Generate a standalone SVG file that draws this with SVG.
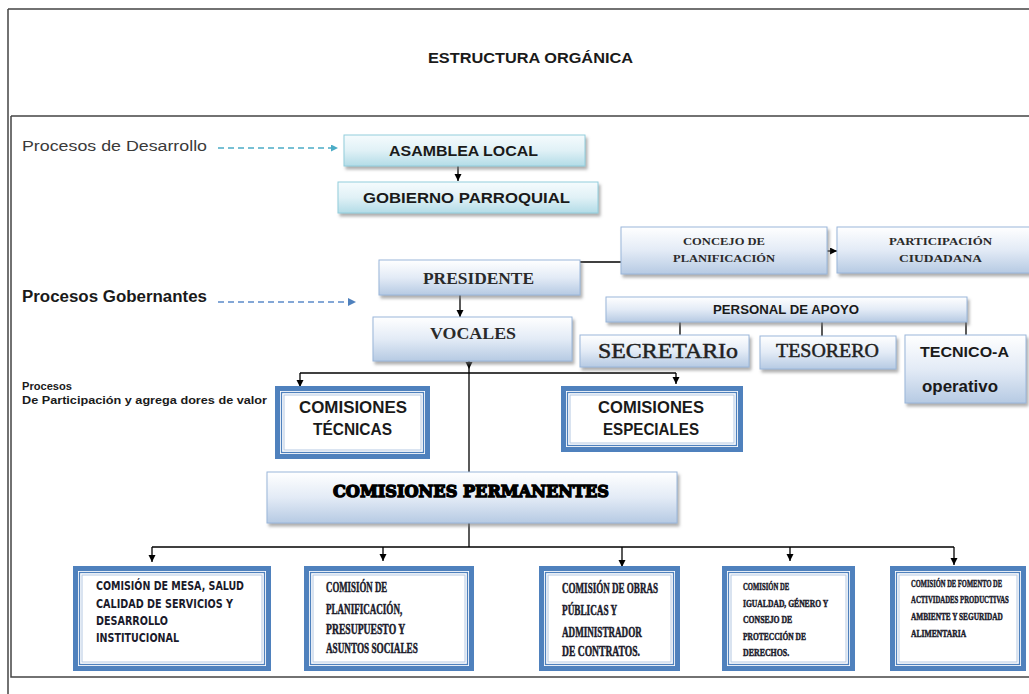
<svg xmlns="http://www.w3.org/2000/svg" width="1029" height="694" viewBox="0 0 1029 694">
<defs>
  <linearGradient id="gBlue" x1="0" y1="0" x2="0" y2="1">
    <stop offset="0" stop-color="#ffffff"/>
    <stop offset="0.5" stop-color="#e3ebf6"/>
    <stop offset="1" stop-color="#b6cae3"/>
  </linearGradient>
  <linearGradient id="gCyan" x1="0" y1="0" x2="0" y2="1">
    <stop offset="0" stop-color="#f5fbfd"/>
    <stop offset="0.5" stop-color="#e0f1f6"/>
    <stop offset="1" stop-color="#b3dce7"/>
  </linearGradient>
  <filter id="sh" x="-5%" y="-10%" width="115%" height="150%">
    <feDropShadow dx="2" dy="3" stdDeviation="1.4" flood-color="#7a7a7a" flood-opacity="0.6"/>
  </filter>
  <marker id="ah" markerUnits="userSpaceOnUse" markerWidth="8" markerHeight="8" refX="7" refY="3.5" orient="auto" viewBox="0 0 8 8">
    <path d="M0,0 L7,3.5 L0,7 z" fill="#000"/>
  </marker>
  <marker id="ahTeal" markerUnits="userSpaceOnUse" markerWidth="8" markerHeight="8" refX="7" refY="3.5" orient="auto" viewBox="0 0 8 8">
    <path d="M0,0 L7,3.5 L0,7 z" fill="#4bacc6"/>
  </marker>
  <marker id="ahBlue" markerUnits="userSpaceOnUse" markerWidth="9" markerHeight="9" refX="8" refY="4" orient="auto" viewBox="0 0 9 9">
    <path d="M0,0 L8,4 L0,8 z" fill="#4f81bd"/>
  </marker>
</defs>
<style>
  .frame { stroke:#444; stroke-width:1.5; fill:none; }
  .gb { fill:url(#gBlue); stroke:#9ab6da; stroke-width:1; filter:url(#sh); }
  .gc { fill:url(#gCyan); stroke:#92cddc; stroke-width:1; filter:url(#sh); }
  .d1 { fill:#fff; stroke:#4f81bd; stroke-width:5; }
  .d2 { fill:none; stroke:#4f81bd; stroke-width:1.3; }
  .d3 { fill:none; stroke:#b4c8e2; stroke-width:1; }
  .ln { stroke:#000; stroke-width:1.3; fill:none; }
  .sb { font-family:"Liberation Sans", Arial, sans-serif; font-weight:bold; fill:#1a1a1a; }
  .sr { font-family:"Liberation Sans", Arial, sans-serif; fill:#3a3a3a; }
  .fb { font-family:"Liberation Serif", "Times New Roman", serif; font-weight:bold; fill:#2a2a2a; }
  .fr { font-family:"Liberation Serif", "Times New Roman", serif; fill:#222; stroke:#222; stroke-width:0.45; }
  .cd { font-family:"DejaVu Sans Condensed", "DejaVu Sans", sans-serif; font-weight:bold; fill:#1a1a2a; }
  .cs { font-family:"Liberation Serif", "Times New Roman", serif; font-weight:bold; fill:#1a1a2a; stroke:#1a1a2a; stroke-width:0.5; }
  .hv { font-family:"DejaVu Serif", "Liberation Serif", serif; font-weight:bold; fill:#000; stroke:#000; stroke-width:1.4; }
</style>

<g id="frame">
  <path class="frame" d="M8,9 H1029 M8,9 V694"/>
  <path class="frame" d="M11,116 H1029 M11,116 V677 H1029" stroke-width="2"/>
</g>

<g id="title">
  <text class="sb" x="428" y="63" font-size="15" textLength="205" lengthAdjust="spacingAndGlyphs">ESTRUCTURA ORGÁNICA</text>
</g>

<g id="labels">
  <text class="sr" x="22" y="151" font-size="15.5" textLength="185" lengthAdjust="spacingAndGlyphs">Procesos de Desarrollo</text>
  <text class="sb" x="22" y="302" font-size="16" textLength="185" lengthAdjust="spacingAndGlyphs">Procesos Gobernantes</text>
  <text class="sb" x="22" y="390" font-size="10" textLength="50" lengthAdjust="spacingAndGlyphs">Procesos</text>
  <text class="sb" x="22" y="404" font-size="10" textLength="245" lengthAdjust="spacingAndGlyphs">De Participación  y agrega dores de valor</text>
</g>

<g id="connectors">
  <line x1="218" y1="148" x2="338" y2="148" stroke="#4bacc6" stroke-width="1.3" stroke-dasharray="6,4" marker-end="url(#ahTeal)"/>
  <line x1="218" y1="302" x2="356" y2="302" stroke="#5b8bc9" stroke-width="1.5" stroke-dasharray="6,4" marker-end="url(#ahBlue)"/>
  <line class="ln" x1="458" y1="166" x2="458" y2="181" marker-end="url(#ah)"/>
  <line class="ln" x1="572" y1="262" x2="621" y2="262"/>
  <line class="ln" x1="827" y1="251" x2="837" y2="251" marker-end="url(#ah)"/>
  <line class="ln" x1="460" y1="295" x2="460" y2="317" marker-end="url(#ah)"/>
  <line class="ln" x1="680" y1="322" x2="680" y2="335"/>
  <line class="ln" x1="822" y1="322" x2="822" y2="336"/>
  <line class="ln" x1="966" y1="322" x2="966" y2="335"/>
  <line class="ln" x1="469" y1="361" x2="469" y2="369" marker-end="url(#ah)"/>
  <path class="ln" d="M300,373 H676"/>
  <line class="ln" x1="300" y1="373" x2="300" y2="387" marker-end="url(#ah)"/>
  <line class="ln" x1="676" y1="373" x2="676" y2="384" marker-end="url(#ah)"/>
  <line class="ln" x1="469" y1="369" x2="469" y2="472"/>
  <line class="ln" x1="469" y1="523" x2="469" y2="547"/>
  <path class="ln" d="M152,547 H954"/>
  <line class="ln" x1="152" y1="547" x2="152" y2="562" marker-end="url(#ah)"/>
  <line class="ln" x1="383" y1="547" x2="383" y2="561" marker-end="url(#ah)"/>
  <line class="ln" x1="622" y1="547" x2="622" y2="567" marker-end="url(#ah)"/>
  <line class="ln" x1="790" y1="547" x2="790" y2="561" marker-end="url(#ah)"/>
  <line class="ln" x1="954" y1="547" x2="954" y2="565" marker-end="url(#ah)"/>
</g>

<g id="asamblea">
  <rect class="gc" x="344" y="135" width="241" height="31"/>
  <text class="sb" x="389" y="156" font-size="14" textLength="149" lengthAdjust="spacingAndGlyphs">ASAMBLEA LOCAL</text>
</g>
<g id="gobierno">
  <rect class="gc" x="338" y="182" width="260" height="31"/>
  <text class="sb" x="363" y="203" font-size="14" textLength="207" lengthAdjust="spacingAndGlyphs">GOBIERNO PARROQUIAL</text>
</g>
<g id="concejo">
  <rect class="gb" x="621" y="227" width="206" height="47"/>
  <text class="fb" x="683" y="245" font-size="11" textLength="82" lengthAdjust="spacingAndGlyphs">CONCEJO DE</text>
  <text class="fb" x="673" y="262" font-size="11" textLength="102" lengthAdjust="spacingAndGlyphs">PLANIFICACIÓN</text>
</g>
<g id="participacion">
  <rect class="gb" x="837" y="227" width="200" height="46"/>
  <text class="fb" x="889" y="245" font-size="11" textLength="103" lengthAdjust="spacingAndGlyphs">PARTICIPACIÓN</text>
  <text class="fb" x="899" y="262" font-size="11" textLength="83" lengthAdjust="spacingAndGlyphs">CIUDADANA</text>
</g>
<g id="presidente">
  <rect class="gb" x="379" y="260" width="201" height="35"/>
  <text class="fb" x="423" y="284" font-size="16" textLength="111" lengthAdjust="spacingAndGlyphs">PRESIDENTE</text>
</g>
<g id="vocales">
  <rect class="gb" x="373" y="317" width="199" height="44"/>
  <text class="fb" x="430" y="339" font-size="17" textLength="86" lengthAdjust="spacingAndGlyphs">VOCALES</text>
</g>
<g id="personal">
  <rect class="gb" x="606" y="297" width="361" height="25"/>
  <text class="sb" x="713" y="314" font-size="12.5" textLength="146" lengthAdjust="spacingAndGlyphs">PERSONAL DE APOYO</text>
</g>
<g id="secretario">
  <rect class="gb" x="580" y="335" width="169" height="32"/>
  <text class="fr" x="598" y="358" font-size="20" textLength="140" lengthAdjust="spacingAndGlyphs">SECRETARIo</text>
</g>
<g id="tesorero">
  <rect class="gb" x="760" y="336" width="136" height="33"/>
  <text class="fr" x="776" y="357" font-size="18" textLength="103" lengthAdjust="spacingAndGlyphs">TESORERO</text>
</g>
<g id="tecnico">
  <rect class="gb" x="905" y="335" width="121" height="68"/>
  <text class="sb" x="920" y="357" font-size="15" textLength="89" lengthAdjust="spacingAndGlyphs" fill="#2a2a2a">TECNICO-A</text>
  <text class="sb" x="922" y="392" font-size="16" textLength="76" lengthAdjust="spacingAndGlyphs" fill="#2a2a2a">operativo</text>
</g>
<g id="com-tecnicas">
  <rect class="d1" x="277.5" y="388.5" width="150" height="68"/>
  <rect class="d2" x="281.5" y="392.5" width="142" height="60"/>
  <rect class="d3" x="284" y="395" width="137" height="55"/>
  <text class="sb" x="299" y="413" font-size="16.5" textLength="108" lengthAdjust="spacingAndGlyphs">COMISIONES</text>
  <text class="sb" x="313" y="435" font-size="16.5" textLength="79" lengthAdjust="spacingAndGlyphs">TÉCNICAS</text>
</g>
<g id="com-especiales">
  <rect class="d1" x="563.5" y="388.5" width="177" height="61"/>
  <rect class="d2" x="567.5" y="392.5" width="169" height="53"/>
  <rect class="d3" x="570" y="395" width="164" height="48"/>
  <text class="sb" x="598" y="413" font-size="16.5" textLength="106" lengthAdjust="spacingAndGlyphs">COMISIONES</text>
  <text class="sb" x="603" y="435" font-size="16.5" textLength="96" lengthAdjust="spacingAndGlyphs">ESPECIALES</text>
</g>
<g id="com-permanentes">
  <rect class="gb" x="267" y="472" width="410" height="51"/>
  <text class="hv" x="333" y="497" font-size="16.5" textLength="276" lengthAdjust="spacingAndGlyphs">COMISIONES PERMANENTES</text>
</g>

<g id="com-mesa">
  <rect class="d1" x="75.5" y="568.5" width="193" height="100"/>
  <rect class="d2" x="79.5" y="572.5" width="185" height="92"/>
  <rect class="d3" x="82" y="575" width="180" height="87"/>
  <text class="cd" x="96" y="590" font-size="11.5" textLength="148" lengthAdjust="spacingAndGlyphs">COMISIÓN DE MESA, SALUD</text>
  <text class="cd" x="96" y="608" font-size="11.5" textLength="137" lengthAdjust="spacingAndGlyphs">CALIDAD DE SERVICIOS Y</text>
  <text class="cd" x="96" y="625" font-size="11.5" textLength="72" lengthAdjust="spacingAndGlyphs">DESARROLLO</text>
  <text class="cd" x="96" y="642" font-size="11.5" textLength="83" lengthAdjust="spacingAndGlyphs">INSTITUCIONAL</text>
</g>
<g id="com-planificacion">
  <rect class="d1" x="306.5" y="568.5" width="165" height="100"/>
  <rect class="d2" x="310.5" y="572.5" width="157" height="92"/>
  <rect class="d3" x="313" y="575" width="152" height="87"/>
  <text class="cs" transform="translate(326,592) scale(0.6,1)" font-size="15" textLength="102" lengthAdjust="spacingAndGlyphs">COMISIÓN DE</text>
  <text class="cs" transform="translate(326,614) scale(0.6,1)" font-size="15" textLength="127" lengthAdjust="spacingAndGlyphs">PLANIFICACIÓN,</text>
  <text class="cs" transform="translate(326,634) scale(0.6,1)" font-size="15" textLength="132" lengthAdjust="spacingAndGlyphs">PRESUPUESTO Y</text>
  <text class="cs" transform="translate(326,653) scale(0.6,1)" font-size="15" textLength="153" lengthAdjust="spacingAndGlyphs">ASUNTOS SOCIALES</text>
</g>
<g id="com-obras">
  <rect class="d1" x="541.5" y="568.5" width="136" height="100"/>
  <rect class="d2" x="545.5" y="572.5" width="128" height="92"/>
  <rect class="d3" x="548" y="575" width="123" height="87"/>
  <text class="cs" transform="translate(562,593) scale(0.6,1)" font-size="15" textLength="160" lengthAdjust="spacingAndGlyphs">COMISIÓN DE OBRAS</text>
  <text class="cs" transform="translate(562,615) scale(0.6,1)" font-size="15" textLength="92" lengthAdjust="spacingAndGlyphs">PÚBLICAS Y</text>
  <text class="cs" transform="translate(562,637) scale(0.6,1)" font-size="15" textLength="133" lengthAdjust="spacingAndGlyphs">ADMINISTRADOR</text>
  <text class="cs" transform="translate(562,656) scale(0.6,1)" font-size="15" textLength="130" lengthAdjust="spacingAndGlyphs">DE CONTRATOS.</text>
</g>
<g id="com-igualdad">
  <rect class="d1" x="724.5" y="568.5" width="128" height="100"/>
  <rect class="d2" x="728.5" y="572.5" width="120" height="92"/>
  <rect class="d3" x="731" y="575" width="115" height="87"/>
  <text class="cs" transform="translate(743,590) scale(0.6,1)" font-size="11" textLength="77" lengthAdjust="spacingAndGlyphs">COMISIÓN DE</text>
  <text class="cs" transform="translate(743,607) scale(0.6,1)" font-size="11" textLength="142" lengthAdjust="spacingAndGlyphs">IGUALDAD, GÉNERO Y</text>
  <text class="cs" transform="translate(743,623) scale(0.6,1)" font-size="11" textLength="82" lengthAdjust="spacingAndGlyphs">CONSEJO DE</text>
  <text class="cs" transform="translate(743,640) scale(0.6,1)" font-size="11" textLength="105" lengthAdjust="spacingAndGlyphs">PROTECCIÓN DE</text>
  <text class="cs" transform="translate(743,656) scale(0.6,1)" font-size="11" textLength="77" lengthAdjust="spacingAndGlyphs">DERECHOS.</text>
</g>
<g id="com-fomento">
  <rect class="d1" x="892.5" y="568.5" width="131" height="100"/>
  <rect class="d2" x="896.5" y="572.5" width="123" height="92"/>
  <rect class="d3" x="899" y="575" width="118" height="87"/>
  <text class="cs" transform="translate(911,587) scale(0.6,1)" font-size="11" textLength="152" lengthAdjust="spacingAndGlyphs">COMISIÓN DE FOMENTO DE</text>
  <text class="cs" transform="translate(911,603) scale(0.6,1)" font-size="11" textLength="163" lengthAdjust="spacingAndGlyphs">ACTIVIDADES PRODUCTIVAS</text>
  <text class="cs" transform="translate(911,620) scale(0.6,1)" font-size="11" textLength="153" lengthAdjust="spacingAndGlyphs">AMBIENTE Y SEGURIDAD</text>
  <text class="cs" transform="translate(911,637) scale(0.6,1)" font-size="11" textLength="92" lengthAdjust="spacingAndGlyphs">ALIMENTARIA</text>
</g>
</svg>
